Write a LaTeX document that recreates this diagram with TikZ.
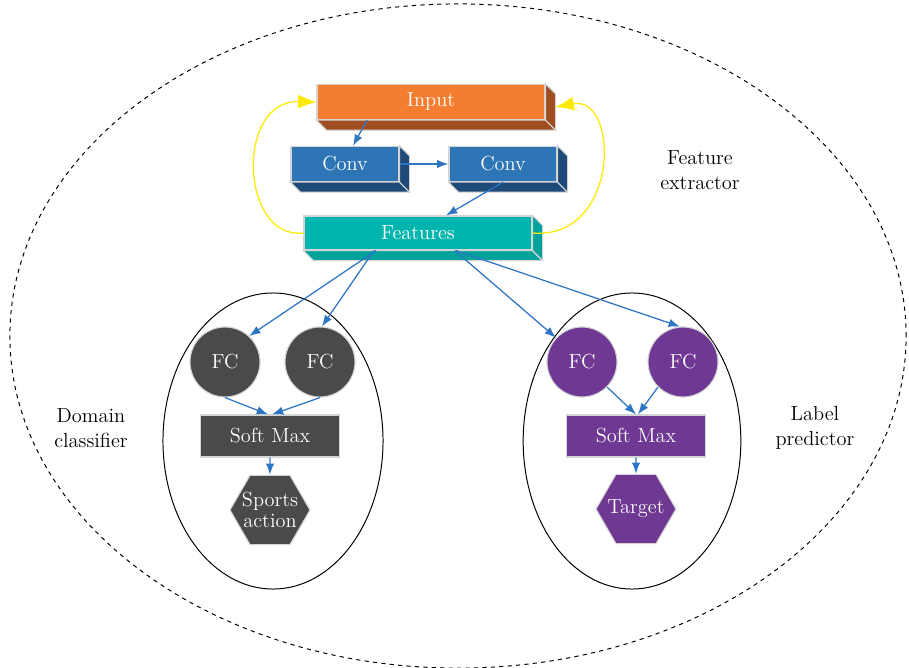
\documentclass[tikz,border=0pt]{standalone}
\usepackage{tikz}
\usepackage{xcolor}
\usetikzlibrary{shapes,arrows,arrows.meta}
\definecolor{inorange}{HTML}{F47D30}
\definecolor{inorangeside}{HTML}{A04D22}
\definecolor{convblue}{HTML}{2E75B6}
\definecolor{convblueside}{HTML}{1E4A78}
\definecolor{featteal}{HTML}{00B5AD}
\definecolor{feattealside}{HTML}{00A29B}
\definecolor{fcgray}{HTML}{4A4A4D}
\definecolor{fcpurple}{HTML}{6E3893}
\definecolor{boxline}{HTML}{D4D4D4}
\definecolor{arrowblue}{HTML}{2E75C4}
\definecolor{loopyellow}{HTML}{FFEA00}
\tikzset{block/.style = {shape=rectangle,draw=boxline,line width=0.8pt,text=white,font=\fontsize{14.5}{16}\selectfont}}
\tikzset{unit/.style = {shape=circle,draw=boxline,line width=0.8pt,text=white,minimum size=1.75cm,inner sep=0pt,font=\fontsize{14.5}{16}\selectfont}}
\tikzset{outbox/.style = {shape=regular polygon,regular polygon sides=6,minimum size=2cm,inner sep=-9pt,draw=boxline,line width=0.8pt,text=white,align=center,font=\fontsize{14.5}{16}\selectfont}}
\tikzset{label/.style = {align=center,font=\fontsize{14.5}{18}\selectfont}}
\tikzset{edge/.style = {-{Latex[length=8pt,width=6pt]},draw=arrowblue,line width=0.9pt}}
\tikzset{loopedge/.style = {-{Latex[length=13pt,width=10pt]},draw=loopyellow,line width=0.9pt}}
% depth faces of a box node
\newcommand{\extrude}[2]{%
  \path[fill=#2,draw=boxline,line width=0.8pt] (#1.south west) -- ++(10,10) -- ([shift={(10,10)}]#1.south east) -- (#1.south east) -- cycle;
  \path[fill=#2,draw=boxline,line width=0.8pt] (#1.south east) -- ++(10,10) -- ([shift={(10,10)}]#1.north east) -- (#1.north east) -- cycle;}

\begin{document}
\begin{tikzpicture}[x=0.025cm,y=-0.025cm]
		\useasboundingbox (0,0) rectangle (909,667);
		% groups
		\draw[dashed,line width=0.7pt] (458,336) ellipse [x radius=11.2cm, y radius=8.3cm];
		\draw[line width=0.7pt] (273,441) ellipse [x radius=2.75cm, y radius=3.7cm];
		\draw[line width=0.7pt] (632,441) ellipse [x radius=2.72cm, y radius=3.7cm];
		% vertices
		\node[block,fill=inorange,minimum width=5.7cm,minimum height=0.88cm] (inp) at (431,102) {Input};
		\node[block,fill=convblue,minimum width=2.7cm,minimum height=0.88cm] (conv1) at (345,164) {Conv};
		\node[block,fill=convblue,minimum width=2.7cm,minimum height=0.88cm] (conv2) at (503,164) {Conv};
		\node[block,fill=featteal,minimum width=5.7cm,minimum height=0.85cm] (feat) at (418,233) {Features};
		\extrude{inp}{inorangeside}
		\extrude{conv1}{convblueside}
		\extrude{conv2}{convblueside}
		\extrude{feat}{feattealside}
		\node[unit,fill=fcgray] (fc1) at (225,362) {FC};
		\node[unit,fill=fcgray] (fc2) at (320,362) {FC};
		\node[unit,fill=fcpurple] (fc3) at (582,362) {FC};
		\node[unit,fill=fcpurple] (fc4) at (683,362) {FC};
		\node[block,fill=fcgray,minimum width=3.475cm,minimum height=1.05cm] (smax1) at (270,436) {Soft Max};
		\node[block,fill=fcpurple,minimum width=3.475cm,minimum height=1.05cm] (smax2) at (636,436) {Soft Max};
		\node[outbox,fill=fcgray] (out1) at (270,510) {Sports\\[-1pt]action};
		\node[outbox,fill=fcpurple] (out2) at (636,509) {Target};
		\node[label] (lblfeat) at (700,170) {Feature\\extractor};
		\node[label] (lbldom) at (91,428) {Domain\\classifier};
		\node[label] (lbllab) at (815,428) {Label\\predictor};
		%edges
		\draw[edge] ([xshift=-1.6cm]inp.south) to ([xshift=0.2cm]conv1.north);
		\draw[edge] (conv1) to (conv2);
		\draw[edge] (conv2.south) to ([xshift=0.7cm]feat.north);
		\draw[loopedge] (feat.west) .. controls (240,240) and (235,100) .. (inp.west);
		\draw[loopedge] (feat.east) .. controls (620,240) and (620,95) .. ([shift={(10,5)}]inp.east);
		\draw[edge] ([xshift=-1.05cm]feat.south) to (fc1.47);
		\draw[edge] ([xshift=-1.1cm]feat.south) to (fc2.87);
		\draw[edge] ([xshift=0.92cm]feat.south) to (fc3.137);
		\draw[edge] ([xshift=0.95cm]feat.south) to (fc4.95);
		\draw[edge] (fc1.south) to ([xshift=-0.05cm]smax1.north);
		\draw[edge] (fc2.south) to ([xshift=0.05cm]smax1.north);
		\draw[edge] (fc3.-45) to (smax2.north);
		\draw[edge] (fc4.-135) to ([xshift=0.05cm]smax2.north);
		\draw[edge] (smax1) to (out1);
		\draw[edge] (smax2) to (out2);
	\end{tikzpicture}
\end{document}
